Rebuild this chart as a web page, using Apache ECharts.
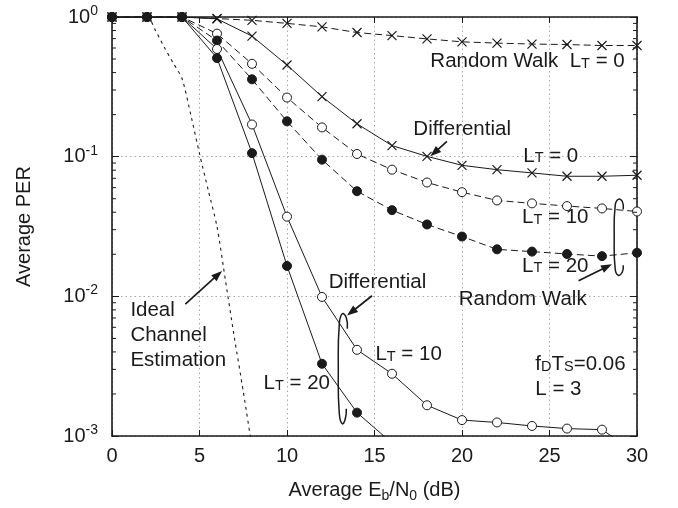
<!DOCTYPE html>
<html>
<head>
<meta charset="utf-8">
<script src="https://cdn.jsdelivr.net/npm/echarts@6/dist/echarts.min.js"></script>
<style>
  html, body { margin: 0; padding: 0; background: #fff; }
  #chart { width: 678px; height: 508px; }
</style>
</head>
<body>
<div id="chart"></div>
<script>
// Eb/N0 sample points (dB)
const snr = [0, 2, 4, 6, 8, 10, 12, 14, 16, 18, 20, 22, 24, 26, 28, 30];

// Packet error rate per estimator / training length
const randomWalkLt0  = [1, 1, 1, 0.975, 0.947, 0.90, 0.85, 0.774, 0.736, 0.697, 0.664, 0.65, 0.64, 0.635, 0.625, 0.625];
const differentialLt0 = [1, 1, 1, 0.97, 0.73, 0.453, 0.269, 0.172, 0.12, 0.1005, 0.0867, 0.0807, 0.0765, 0.0724, 0.0724, 0.0736];
const randomWalkLt10 = [1, 1, 1, 0.76, 0.462, 0.265, 0.162, 0.1045, 0.0807, 0.0653, 0.0557, 0.0486, 0.0463, 0.0443, 0.0426, 0.0405];
const randomWalkLt20 = [1, 1, 1, 0.678, 0.358, 0.179, 0.0952, 0.0566, 0.0414, 0.0327, 0.0268, 0.0217, 0.0209, 0.0201, 0.0194, 0.0205];
const differentialLt10 = [1, 1, 1, 0.59, 0.17, 0.0372, 0.0099, 0.00414, 0.00279, 0.00166, 0.0013, 0.00125, 0.00118, 0.00113, 0.00111, 0.00075];
const differentialLt20 = [1, 1, 1, 0.508, 0.106, 0.0165, 0.00329, 0.00147, 0.00089];

// Ideal channel estimation reference curve
const idealSnr = [0, 2, 2.5, 3, 3.5, 4, 4.5, 5, 5.5, 6, 6.5, 7, 7.5, 8];
const idealPer = [1, 1, 0.794, 0.603, 0.468, 0.363, 0.2, 0.105, 0.0575, 0.0316, 0.0126, 0.005, 0.00209, 0.00083];

// Axis ticks
const xTicks = { min: 0, max: 30, step: 5 };
const yRange = { min: 0.001, max: 1 };
const minorMantissas = [2, 3, 4, 5, 6, 7, 8, 9];
const minorDecades = [0.001, 0.01, 0.1];

const pairs = (xs, ys) => ys.map((v, i) => [xs[i], v]);

const INK = '#1a1a1a';
const FONT = "'Liberation Sans', Arial, Helvetica, sans-serif";

const crossSymbol = 'path://M0,0L10,10M10,0L0,10';

function curve(name, xs, ys, opts) {
  return Object.assign({
    name,
    type: 'line',
    data: pairs(xs, ys),
    clip: true,
    silent: true,
    showSymbol: true,
    symbolSize: 9,
    lineStyle: { color: INK, width: 1, type: 'solid' },
    itemStyle: { color: INK, borderColor: INK, borderWidth: 1 },
    emphasis: { disabled: true },
    z: 3
  }, opts);
}

const dashed = { color: INK, width: 1, type: [7, 4] };

const minorTickData = [];
minorDecades.forEach(d => minorMantissas.forEach(m => minorTickData.push([0, +(m * d).toPrecision(3)])));

const chart = echarts.init(document.getElementById('chart'), null, { renderer: 'canvas' });

const option = {
  backgroundColor: '#ffffff',
  animation: false,
  textStyle: { fontFamily: FONT, color: INK },
  grid: { left: 112, right: 41, top: 17, bottom: 70, containLabel: false },
  xAxis: [
    {
      type: 'value', min: xTicks.min, max: xTicks.max, interval: xTicks.step,
      name: '{n|Average E}{sub|b}{n|/N}{sub|0}{n| (dB)}',
      nameLocation: 'middle', nameGap: 43,
      nameTextStyle: {
        fontFamily: FONT, color: INK,
        rich: {
          n: { fontSize: 20, lineHeight: 22, fontFamily: FONT, color: INK },
          sub: { fontSize: 14, height: 10, verticalAlign: 'bottom', fontFamily: FONT, color: INK }
        }
      },
      axisLine: { show: true, onZero: false, lineStyle: { color: INK, width: 1.6 } },
      axisTick: { show: true, inside: true, length: 6, lineStyle: { color: INK, width: 1 } },
      axisLabel: { fontSize: 20, color: INK, fontFamily: FONT, margin: 10 },
      splitLine: { show: true, lineStyle: { color: '#a8a8a8', width: 1, type: [1.5, 3] } }
    },
    {
      type: 'value', min: xTicks.min, max: xTicks.max, interval: xTicks.step, position: 'top',
      axisLine: { show: true, onZero: false, lineStyle: { color: INK, width: 1.6 } },
      axisTick: { show: true, inside: true, length: 6, lineStyle: { color: INK, width: 1 } },
      axisLabel: { show: false },
      splitLine: { show: false }
    }
  ],
  yAxis: [
    {
      type: 'log', logBase: 10, min: yRange.min, max: yRange.max,
      name: 'Average PER', nameLocation: 'middle', nameGap: 78, nameRotate: 90,
      nameTextStyle: { fontSize: 20, color: INK, fontFamily: FONT },
      axisLine: { show: true, onZero: false, lineStyle: { color: INK, width: 1.6 } },
      axisTick: { show: true, inside: true, length: 7, lineStyle: { color: INK, width: 1 } },
      axisLabel: {
        margin: 14,
        formatter: v => '{b|10}{s|' + Math.round(Math.log10(v)) + '}',
        rich: {
          b: { fontSize: 20, lineHeight: 22, fontFamily: FONT, color: INK },
          s: { fontSize: 14, height: 10, verticalAlign: 'top', fontFamily: FONT, color: INK }
        }
      },
      splitLine: { show: true, lineStyle: { color: '#a8a8a8', width: 1, type: [1.5, 3] } }
    },
    {
      type: 'log', logBase: 10, min: yRange.min, max: yRange.max, position: 'right',
      axisLine: { show: true, onZero: false, lineStyle: { color: INK, width: 1.6 } },
      axisTick: { show: true, inside: true, length: 7, lineStyle: { color: INK, width: 1 } },
      axisLabel: { show: false },
      splitLine: { show: false }
    }
  ],
  series: [
    curve('Ideal Channel Estimation', idealSnr, idealPer, {
      showSymbol: false, symbol: 'none', smooth: 0.25,
      lineStyle: { color: INK, width: 1.1, type: [3, 4] }, z: 2
    }),
    curve('Random Walk LT=0', snr, randomWalkLt0, {
      symbol: crossSymbol, symbolSize: 9, lineStyle: dashed,
      itemStyle: { color: 'transparent', borderColor: INK, borderWidth: 1.2 }
    }),
    curve('Differential LT=0', snr, differentialLt0, {
      symbol: crossSymbol, symbolSize: 9,
      itemStyle: { color: 'transparent', borderColor: INK, borderWidth: 1.2 }
    }),
    curve('Random Walk LT=10', snr, randomWalkLt10, {
      symbol: 'circle', lineStyle: dashed,
      itemStyle: { color: '#ffffff', borderColor: INK, borderWidth: 1 }
    }),
    curve('Random Walk LT=20', snr, randomWalkLt20, {
      symbol: 'circle', lineStyle: dashed,
      itemStyle: { color: INK, borderColor: INK, borderWidth: 1 }
    }),
    curve('Differential LT=10', snr, differentialLt10, {
      symbol: 'circle',
      itemStyle: { color: '#ffffff', borderColor: INK, borderWidth: 1 }
    }),
    curve('Differential LT=20', snr, differentialLt20, {
      symbol: 'circle',
      itemStyle: { color: INK, borderColor: INK, borderWidth: 1 }
    }),
    {
      // minor decade ticks on the left and right frame edges
      type: 'custom',
      silent: true,
      clip: false,
      z: 5,
      data: minorTickData,
      encode: { x: 0, y: 1 },
      renderItem(params, api) {
        const v = api.value(1);
        const l = api.coord([xTicks.min, v]);
        const r = api.coord([xTicks.max, v]);
        const st = { stroke: INK, lineWidth: 1 };
        return {
          type: 'group',
          children: [
            { type: 'line', shape: { x1: l[0], y1: l[1], x2: l[0] + 4, y2: l[1] }, style: st },
            { type: 'line', shape: { x1: r[0] - 4, y1: r[1], x2: r[0], y2: r[1] }, style: st }
          ]
        };
      }
    }
  ]
};

chart.setOption(option);

// ---- annotations placed in data coordinates ----
const ANN = 20.5;
const RICH = {
  n: { fontSize: ANN, lineHeight: 22, fontFamily: FONT, fill: INK, color: INK },
  // small capitals sitting on the baseline of the large letters
  k: { fontSize: 14.5, height: 18, verticalAlign: 'bottom', fontFamily: FONT, fill: INK, color: INK }
};

const labels = [
  { at: [18.19, 0.478], text: '{n|Random Walk  L}{k|T}{n| = 0}' },
  { at: [17.22, 0.1558], text: '{n|Differential}' },
  { at: [23.50, 0.1005], text: '{n|L}{k|T}{n| = 0}' },
  { at: [23.43, 0.0366], text: '{n|L}{k|T}{n| = 10}' },
  { at: [23.43, 0.01652], text: '{n|L}{k|T}{n| = 20}' },
  { at: [19.81, 0.00946], text: '{n|Random Walk}' },
  { at: [12.38, 0.01258], text: '{n|Differential}' },
  { at: [15.05, 0.00382], text: '{n|L}{k|T}{n| = 10}' },
  { at: [8.66, 0.00237], text: '{n|L}{k|T}{n| = 20}' },
  { at: [24.19, 0.00324], text: '{n|f}{k|D}{n|T}{k|S}{n|=0.06}' },
  { at: [24.19, 0.00216], text: '{n|L = 3}' }
];

const arrows = [
  { from: [19.14, 0.1285], to: [18.19, 0.1005] },
  { from: [26.66, 0.01291], to: [28.57, 0.01699] },
  { from: [14.86, 0.0101], to: [13.43, 0.00728] },
  { from: [4.19, 0.00881], to: [6.29, 0.0152] }
];

// bracket loops grouping the curves, outline given around a centre point
const loops = [
  { at: [28.87, 0.02647], outline: [[6, -28], [5, -36], [1, -38], [-2, -32], [-3, 0], [-2, 32], [1, 38], [5, 35], [6, 28]] },
  { at: [13.16, 0.00303], outline: [[5, -40], [4, -51], [0, -55], [-3, -45], [-4, 0], [-3, 45], [0, 55], [3, 50], [4, 40]] }
];

const toPx = p => chart.convertToPixel({ gridIndex: 0 }, p);
const graphics = [];

labels.forEach(l => {
  const p = toPx(l.at);
  graphics.push({
    type: 'text', x: p[0], y: p[1], z: 10, silent: true,
    style: { text: l.text, rich: RICH, fill: INK, align: 'left', verticalAlign: 'middle', font: ANN + 'px ' + FONT }
  });
});

// three-line label for the ideal estimator
(() => {
  const p = toPx([1.05, 0.00524]);
  graphics.push({
    type: 'text', x: p[0], y: p[1], z: 10, silent: true,
    style: {
      text: 'Ideal\nChannel\nEstimation', fill: INK, align: 'left', verticalAlign: 'middle',
      fontSize: ANN, fontFamily: FONT, lineHeight: 25
    }
  });
})();

arrows.forEach(a => {
  const s = toPx(a.from), e = toPx(a.to);
  const dx = e[0] - s[0], dy = e[1] - s[1];
  const len = Math.hypot(dx, dy), ux = dx / len, uy = dy / len;
  const hl = 11, hw = 4;
  const bx = e[0] - ux * hl, by = e[1] - uy * hl;
  graphics.push({
    type: 'line', z: 10, silent: true,
    shape: { x1: s[0], y1: s[1], x2: bx + ux * 2, y2: by + uy * 2 },
    style: { stroke: INK, lineWidth: 1.7 }
  });
  graphics.push({
    type: 'polygon', z: 10, silent: true,
    shape: { points: [[e[0], e[1]], [bx - uy * hw, by + ux * hw], [bx + uy * hw, by - ux * hw]] },
    style: { fill: INK }
  });
});

loops.forEach(lp => {
  const c = toPx(lp.at);
  graphics.push({
    type: 'polyline', z: 10, silent: true,
    shape: { points: lp.outline.map(o => [c[0] + o[0], c[1] + o[1]]), smooth: 0.5 },
    style: { stroke: INK, lineWidth: 1.5, fill: null }
  });
});

chart.setOption({ graphic: { elements: graphics } });
</script>
</body>
</html>
